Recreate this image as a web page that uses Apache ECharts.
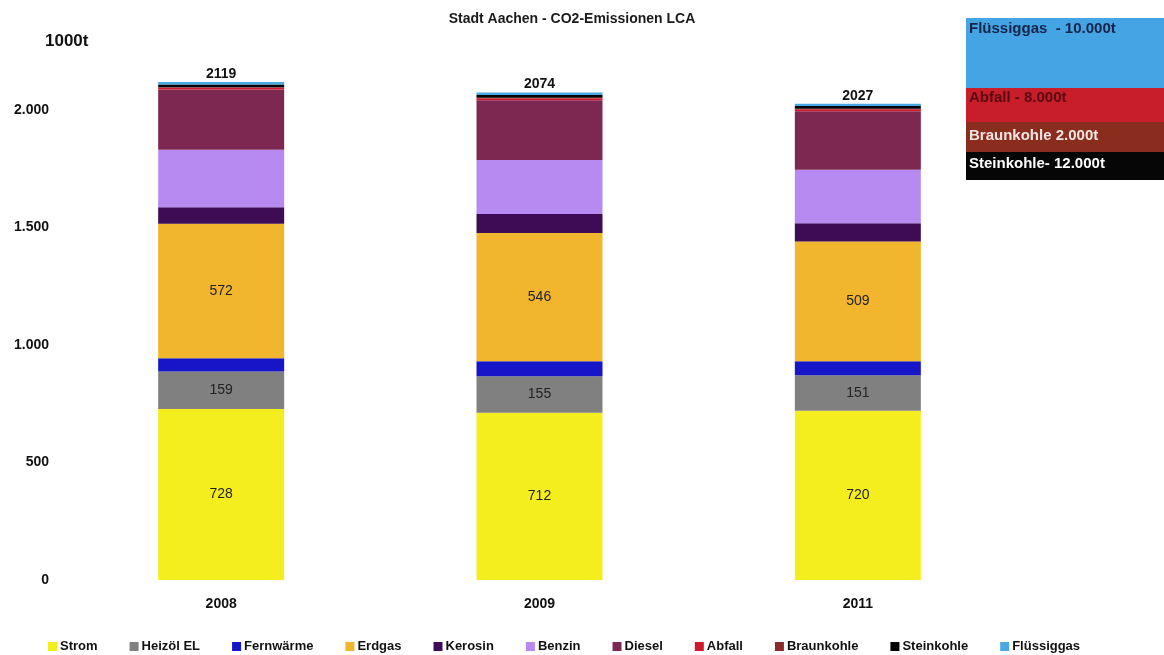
<!DOCTYPE html>
<html>
<head>
<meta charset="utf-8">
<script src="https://cdn.jsdelivr.net/npm/echarts@6/dist/echarts.min.js"></script>
<style>
  html, body { margin: 0; padding: 0; background: #fff; }
  #chart { width: 1164px; height: 655px; }
</style>
</head>
<body>
<div id="chart"></div>
<script>
// CO2 emissions of the city of Aachen by energy source, in 1000 t
const years = ['2008', '2009', '2011'];
const strom       = [728, 712, 720];
const heizoel     = [159, 155, 151];
const fernwaerme  = [57, 64, 60];
const erdgas      = [572, 546, 509];
const kerosin     = [70, 80, 78];
const benzin      = [245, 230, 228];
const diesel      = [256, 255, 249];
const abfall      = [8, 8, 8];
const braunkohle  = [2, 2, 2];
const steinkohle  = [12, 12, 12];
const fluessiggas = [10, 10, 10];
const yTicks = [0, 500, 1000, 1500, 2000];

const seriesDefs = [
  { name: 'Strom',       data: strom,       color: '#f5ee1e', label: true },
  { name: 'Heizöl EL',   data: heizoel,     color: '#808080', label: true },
  { name: 'Fernwärme',   data: fernwaerme,  color: '#1616c8' },
  { name: 'Erdgas',      data: erdgas,      color: '#f2b62e', label: true },
  { name: 'Kerosin',     data: kerosin,     color: '#3d0c55' },
  { name: 'Benzin',      data: benzin,      color: '#b78af2' },
  { name: 'Diesel',      data: diesel,      color: '#7d2850' },
  { name: 'Abfall',      data: abfall,      color: '#d01a2c' },
  { name: 'Braunkohle',  data: braunkohle,  color: '#8b2a2a' },
  { name: 'Steinkohle',  data: steinkohle,  color: '#000000' },
  { name: 'Flüssiggas',  data: fluessiggas, color: '#4aa8e2' }
];

const totals = years.map((_, i) => seriesDefs.reduce((s, d) => s + d.data[i], 0));
const fmtThousands = v => String(v).replace(/\B(?=(\d{3})+(?!\d))/g, '.');
const font = 'Liberation Sans, Arial, sans-serif';

const series = seriesDefs.map((d, idx) => {
  const s = {
    name: d.name,
    type: 'bar',
    stack: 'total',
    data: d.data,
    barWidth: 126,
    itemStyle: { color: d.color },
    emphasis: { disabled: true },
    label: { show: false }
  };
  if (d.label) {
    s.label = {
      show: true,
      position: 'inside',
      color: '#222',
      fontFamily: font,
      fontSize: 14
    };
  }
  if (idx === seriesDefs.length - 1) {
    s.label = {
      show: true,
      position: 'top',
      distance: 1,
      formatter: p => String(totals[p.dataIndex]),
      color: '#111',
      fontFamily: font,
      fontWeight: 'bold',
      fontSize: 14
    };
  }
  return s;
});

// side notes for the small sources
const notes = [
  { text: 'Flüssiggas  - 10.000t', y: 18, h: 70, fill: '#44a4e4', color: '#16244a', dy: 3 },
  { text: 'Abfall - 8.000t',       y: 88, h: 34, fill: '#c81e2a', color: '#5a0a12', dy: 2 },
  { text: 'Braunkohle 2.000t',     y: 122, h: 30, fill: '#8a2c1e', color: '#f2e6e2', dy: 6 },
  { text: 'Steinkohle- 12.000t',   y: 152, h: 28, fill: '#060606', color: '#ffffff', dy: 4 }
];
const graphic = [];
notes.forEach(n => {
  graphic.push({
    type: 'rect', left: 966, top: n.y,
    shape: { width: 198, height: n.h },
    style: { fill: n.fill }, z: 10
  });
  graphic.push({
    type: 'text', left: 969, top: n.y + n.dy,
    style: { text: n.text, fill: n.color, font: 'bold 15px ' + font }, z: 11
  });
});
graphic.push({
  type: 'text', left: 45, top: 33,
  style: { text: '1000t', fill: '#111', font: 'bold 17px ' + font }
});

const chart = echarts.init(document.getElementById('chart'), null, { renderer: 'canvas' });
chart.setOption({
  backgroundColor: '#ffffff',
  animation: false,
  title: {
    text: 'Stadt Aachen - CO2-Emissionen LCA',
    left: 567, textAlign: 'center', top: 7,
    textStyle: { fontFamily: font, fontWeight: 'bold', fontSize: 14, color: '#1a1a1a' }
  },
  grid: { left: 62, right: 147, top: 63, bottom: 75 },
  xAxis: {
    type: 'category',
    data: years,
    axisLine: { show: false },
    axisTick: { show: false },
    axisLabel: { fontFamily: font, fontWeight: 'bold', fontSize: 14, color: '#111', margin: 17 }
  },
  yAxis: {
    type: 'value',
    min: yTicks[0],
    max: 2200,
    interval: 500,
    splitLine: { show: false },
    axisLine: { show: false },
    axisTick: { show: false },
    axisLabel: {
      fontFamily: font, fontWeight: 'bold', fontSize: 14, color: '#111', margin: 13,
      formatter: v => yTicks.includes(v) ? fmtThousands(v) : ''
    }
  },
  legend: {
    bottom: 2,
    left: 48,
    padding: 0,
    itemWidth: 9,
    itemHeight: 9,
    itemGap: 32,
    icon: 'rect',
    textStyle: { fontFamily: font, fontWeight: 'bold', fontSize: 13, color: '#111', padding: [0, 0, 0, -2] },
    data: seriesDefs.map(d => d.name)
  },
  graphic: graphic,
  series: series
});
</script>
</body>
</html>
